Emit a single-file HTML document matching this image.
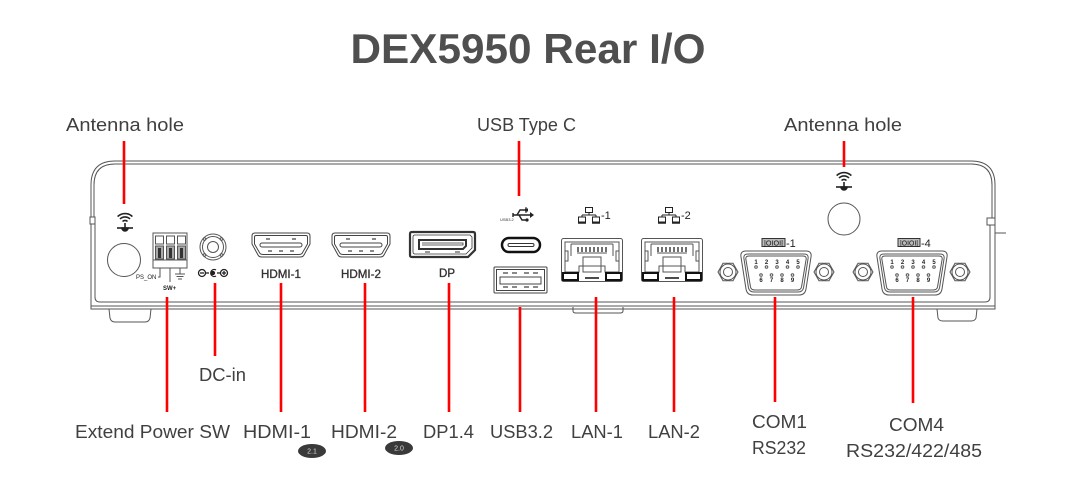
<!DOCTYPE html>
<html><head><meta charset="utf-8"><style>
html,body{margin:0;padding:0;background:#fff;}
svg{display:block;}
</style></head><body>
<svg width="1080" height="491" viewBox="0 0 1080 491" xmlns="http://www.w3.org/2000/svg">
<rect width="1080" height="491" fill="#fff"/>

<!-- Title -->
<text x="528" y="63" text-anchor="middle" font-family="Liberation Sans, sans-serif" font-weight="bold" font-size="42" fill="#4f4f4f" textLength="355" lengthAdjust="spacingAndGlyphs">DEX5950 Rear I/O</text>

<!-- Labels -->
<g font-family="Liberation Sans, sans-serif" font-size="18" fill="#404040">
<text x="66" y="131" textLength="118" lengthAdjust="spacingAndGlyphs">Antenna hole</text>
<text x="477" y="131" textLength="99" lengthAdjust="spacingAndGlyphs">USB Type C</text>
<text x="784" y="131" textLength="118" lengthAdjust="spacingAndGlyphs">Antenna hole</text>
<text x="199" y="381" textLength="47" lengthAdjust="spacingAndGlyphs">DC-in</text>
<text x="75" y="438" textLength="155" lengthAdjust="spacingAndGlyphs">Extend Power SW</text>
<text x="243" y="438" textLength="68" lengthAdjust="spacingAndGlyphs">HDMI-1</text>
<text x="331" y="438" textLength="66" lengthAdjust="spacingAndGlyphs">HDMI-2</text>
<text x="423" y="438" textLength="51" lengthAdjust="spacingAndGlyphs">DP1.4</text>
<text x="490" y="438" textLength="63" lengthAdjust="spacingAndGlyphs">USB3.2</text>
<text x="571" y="438" textLength="52" lengthAdjust="spacingAndGlyphs">LAN-1</text>
<text x="648" y="438" textLength="52" lengthAdjust="spacingAndGlyphs">LAN-2</text>
<text x="752" y="428" textLength="55" lengthAdjust="spacingAndGlyphs">COM1</text>
<text x="752" y="454" textLength="54" lengthAdjust="spacingAndGlyphs">RS232</text>
<text x="889" y="431" textLength="55" lengthAdjust="spacingAndGlyphs">COM4</text>
<text x="846" y="457" textLength="136" lengthAdjust="spacingAndGlyphs">RS232/422/485</text>
</g>

<!-- badges -->
<ellipse cx="312" cy="451" rx="14" ry="7" fill="#3a3a3a"/>
<text x="312" y="453.5" text-anchor="middle" font-family="Liberation Sans, sans-serif" font-size="7" fill="#ddd">2.1</text>
<ellipse cx="399" cy="448" rx="14" ry="7" fill="#3a3a3a"/>
<text x="399" y="450.5" text-anchor="middle" font-family="Liberation Sans, sans-serif" font-size="7" fill="#ddd">2.0</text>

<!-- Chassis -->
<g fill="none" stroke="#555" stroke-width="1">
<path d="M91,309 L91,185 Q91,161 115,161 L971,161 Q995,161 995,185 L995,309 Z"/>
<path d="M94,217 L94,185 Q94,164 115,164 L971,164 Q992,164 992,185 L992,218"/>
<path d="M95,224 L95,297 Q95,302 100,302 L985,302 Q990,302 990,297 L990,225"/>
<path d="M91,306 L995,306"/>
<rect x="90" y="217" width="5" height="7" fill="#fff"/>
<rect x="987" y="218" width="8" height="7" fill="#fff"/>
<path d="M995,233 L1006,233"/>
<path d="M109,309 L110,318 Q111,322 115,322 L145,322 Q149,322 150,318 L151,309"/>
<path d="M573,307 L573,311 Q573,313 576,313 L620,313 Q623,313 623,311 L623,307"/>
<path d="M937,309 L938,318 Q939,321 943,321 L971,321 Q975,321 976,318 L977,309"/>
</g>

<!-- Wifi icons -->
<g fill="none" stroke="#222" stroke-width="1.6">
<g transform="translate(125,224)">
<path d="M-2.5,-2.5 A3.5,3.5 0 0 1 2.5,-2.5"/>
<path d="M-5,-5 A7,7 0 0 1 5,-5"/>
<path d="M-7.4,-7.4 A10.5,10.5 0 0 1 7.4,-7.4"/>
<path d="M-8,4 L8,4"/>
<path d="M0,-1 L0,4"/>
<path d="M-3,4 A3,3 0 0 0 3,4 Z" fill="#222"/>
</g>
<g transform="translate(844,183)">
<path d="M-2.5,-2.5 A3.5,3.5 0 0 1 2.5,-2.5"/>
<path d="M-5,-5 A7,7 0 0 1 5,-5"/>
<path d="M-7.4,-7.4 A10.5,10.5 0 0 1 7.4,-7.4"/>
<path d="M-8,4 L8,4"/>
<path d="M0,-1 L0,4"/>
<path d="M-3,4 A3,3 0 0 0 3,4 Z" fill="#222"/>
</g>
</g>

<!-- antenna holes -->
<circle cx="124" cy="260" r="16.5" fill="none" stroke="#555" stroke-width="1"/>
<circle cx="844" cy="219" r="16" fill="none" stroke="#555" stroke-width="1"/>

<!-- Terminal block -->
<g stroke="#555" stroke-width="1" fill="#fff">
<rect x="153" y="233" width="34" height="35"/>
<rect x="155.5" y="236" width="8" height="8"/>
<rect x="166.5" y="236" width="8" height="8"/>
<rect x="177.5" y="236" width="8" height="8"/>
<rect x="155.5" y="246" width="8" height="13" fill="#aaa"/>
<rect x="166.5" y="246" width="8" height="13" fill="#aaa"/>
<rect x="177.5" y="246" width="8" height="13" fill="#aaa"/>
<rect x="158" y="248" width="3" height="10" fill="#333" stroke="none"/>
<rect x="169" y="248" width="3" height="10" fill="#333" stroke="none"/>
<rect x="180" y="248" width="3" height="10" fill="#333" stroke="none"/>
<rect x="153" y="260" width="34" height="8"/>
<path d="M158,277 L160,277 L160,268 M170,268 L170,282 M180,268 L180,274 M175,274 L185,274 M176.5,276.5 L183.5,276.5 M178,279 L182,279" fill="none"/>
</g>
<text x="136" y="279" font-family="Liberation Sans, sans-serif" font-size="6" fill="#222">PS_ON</text>
<text x="163" y="290" font-family="Liberation Sans, sans-serif" font-size="6" font-weight="bold" fill="#222">SW+</text>

<!-- DC jack -->
<g stroke="#555" stroke-width="1" fill="none">
<circle cx="213" cy="247" r="13"/>
<circle cx="213" cy="247" r="10.5"/>
<circle cx="213" cy="247" r="5.5"/>
<circle cx="204.5" cy="239" r="1.3"/><circle cx="221.5" cy="239" r="1.3"/>
<circle cx="204.5" cy="255" r="1.3"/><circle cx="221.5" cy="255" r="1.3"/>
</g>
<g stroke="#222" stroke-width="1.3" fill="none">
<circle cx="202" cy="273" r="3.5"/><path d="M200,273 L204,273"/>
<path d="M205.5,273 L209,273"/>
<path d="M216,270 A3.5,3.5 0 1 0 216,276"/><circle cx="213" cy="273" r="1.5" fill="#222"/>
<path d="M217,273 L220,273"/>
<circle cx="224" cy="273" r="3.5"/><path d="M222,273 L226,273 M224,271 L224,275"/>
</g>

<!-- HDMI ports -->
<g fill="none" stroke="#444" stroke-width="1">
<g transform="translate(252,233)">
<path d="M3,0 L55,0 Q58,0 58,3 L58,11 L52,22 Q51,24 48,24 L10,24 Q7,24 6,22 L0,11 L0,3 Q0,0 3,0 Z"/>
<path d="M4,2.5 L54,2.5 Q55.5,2.5 55.5,4 L55.5,11 L50,20.5 Q49,21.5 47,21.5 L11,21.5 Q9,21.5 8,20.5 L2.5,11 L2.5,4 Q2.5,2.5 4,2.5 Z"/>
<rect x="8" y="10" width="42" height="4" rx="2"/>
<path d="M14,6 L18,6 M40,6 L44,6 M16,18 L20,18 M27,18 L31,18 M38,18 L42,18" stroke-width="1.3"/>
</g>
<g transform="translate(332,233)">
<path d="M3,0 L55,0 Q58,0 58,3 L58,11 L52,22 Q51,24 48,24 L10,24 Q7,24 6,22 L0,11 L0,3 Q0,0 3,0 Z"/>
<path d="M4,2.5 L54,2.5 Q55.5,2.5 55.5,4 L55.5,11 L50,20.5 Q49,21.5 47,21.5 L11,21.5 Q9,21.5 8,20.5 L2.5,11 L2.5,4 Q2.5,2.5 4,2.5 Z"/>
<rect x="8" y="10" width="42" height="4" rx="2"/>
<path d="M14,6 L18,6 M40,6 L44,6 M16,18 L20,18 M27,18 L31,18 M38,18 L42,18" stroke-width="1.3"/>
</g>
</g>
<g font-family="Liberation Sans, sans-serif" font-size="11.5" fill="#333" stroke="#333" stroke-width="0.35">
<text x="281" y="278" text-anchor="middle" textLength="40" lengthAdjust="spacingAndGlyphs">HDMI-1</text>
<text x="361" y="278" text-anchor="middle" textLength="40" lengthAdjust="spacingAndGlyphs">HDMI-2</text>
<text x="447" y="277" text-anchor="middle" textLength="16" lengthAdjust="spacingAndGlyphs">DP</text>
</g>

<!-- DP -->
<g transform="translate(410,232)" fill="none" stroke="#333">
<path d="M2,0 L63,0 Q65,0 65,2 L65,18 L58,25 L2,25 Q0,25 0,23 L0,2 Q0,0 2,0 Z" stroke-width="2.2"/>
<path d="M5,3 L60,3 L62,5 L62,16 L56,22 L5,22 Q3,22 3,20 L3,5 Q3,3 5,3 Z" stroke-width="0.8"/>
<path d="M9,8 L56,8 L56,14 L53,17 L9,17 Z" stroke-width="2"/>
<path d="M12,11 L53,11 L53,13 L12,13" stroke-width="0.8"/>
<path d="M15,20 L20,20 M45,20 L50,20" stroke-width="1"/>
</g>

<!-- USB icon -->
<g transform="translate(500,207)">
<text x="0" y="14" font-family="Liberation Sans, sans-serif" font-size="4" fill="#333">USB3.2</text>
<g stroke="#222" stroke-width="1.4" fill="none">
<path d="M13,8 L31,8"/>
<path d="M17,8 L20,3 L25,3"/>
<path d="M19,8 L22,13 L26,13"/>
<path d="M13,6 L13,10"/>
</g>
<path d="M30,5 L34,8 L30,11 Z" fill="#222"/>
<rect x="25" y="1.5" width="3" height="3" fill="#222"/>
<circle cx="27" cy="13" r="1.6" fill="#222"/>
<path d="M26,0 L26,6" stroke="#222" stroke-width="1"/>
</g>

<!-- USB-C -->
<rect x="502" y="238" width="38" height="14" rx="7" fill="none" stroke="#111" stroke-width="2.5"/>
<rect x="508" y="243.5" width="26" height="3" rx="1.5" fill="none" stroke="#333" stroke-width="1"/>

<!-- USB-A -->
<g fill="none" stroke="#444" stroke-width="1">
<rect x="494" y="267" width="53" height="26" rx="1"/>
<rect x="496.5" y="269.5" width="48" height="21"/>
<rect x="500" y="277" width="41" height="7"/>
<path d="M503,273 L508,273 M512,273 L517,273 M524,273 L529,273 M533,273 L538,273" stroke-width="1.3"/>
<path d="M503,287 L508,287 M512,287 L517,287 M524,287 L529,287 M533,287 L538,287" stroke-width="1.3"/>
</g>

<!-- LAN icons -->
<g stroke="#222" stroke-width="1" fill="none">
<g transform="translate(578,207)">
<rect x="7.5" y="0.5" width="7" height="5" fill="#fff"/>
<path d="M11,5.5 L11,8 M4,8 L18,8 M4,8 L4,10 M18,8 L18,10"/>
<rect x="0.5" y="10" width="7" height="5"/>
<rect x="14.5" y="10" width="7" height="5"/>
<path d="M0,16 L8,16 M14,16 L22,16" stroke-width="1.5"/>
</g>
<g transform="translate(658,207)">
<rect x="7.5" y="0.5" width="7" height="5" fill="#fff"/>
<path d="M11,5.5 L11,8 M4,8 L18,8 M4,8 L4,10 M18,8 L18,10"/>
<rect x="0.5" y="10" width="7" height="5"/>
<rect x="14.5" y="10" width="7" height="5"/>
<path d="M0,16 L8,16 M14,16 L22,16" stroke-width="1.5"/>
</g>
</g>
<g font-family="Liberation Sans, sans-serif" font-size="11" fill="#222">
<text x="601" y="219">-1</text>
<text x="681" y="219">-2</text>
</g>

<!-- LAN ports -->
<g fill="none" stroke="#555" stroke-width="1">
<g transform="translate(561,238)">
<rect x="0.5" y="0.5" width="61" height="43" rx="2"/>
<path d="M4,4 L58,4 L58,34 L44,34 L44,28 L18,28 L18,34 L4,34 Z"/>
<path d="M10,6 L52,6 M10,6 L10,18 M52,6 L52,18"/>
<path d="M17,9 L17,14 M21,9 L21,14 M25,9 L25,14 M29,9 L29,14 M33,9 L33,14 M37,9 L37,14 M41,9 L41,14 M45,9 L45,14" stroke="#333" stroke-width="1.4"/>
<path d="M16,15 L46,15"/>
<rect x="4" y="13" width="3" height="10"/>
<rect x="55" y="13" width="3" height="10"/>
<rect x="22" y="19" width="18" height="15"/>
<rect x="2" y="35" width="15" height="7" stroke="#111" stroke-width="2" fill="#fff"/>
<rect x="45" y="35" width="15" height="7" stroke="#111" stroke-width="2" fill="#fff"/>
<path d="M24,40 L38,40" stroke="#111" stroke-width="1.5"/>
</g>
<g transform="translate(641,238)">
<rect x="0.5" y="0.5" width="61" height="43" rx="2"/>
<path d="M4,4 L58,4 L58,34 L44,34 L44,28 L18,28 L18,34 L4,34 Z"/>
<path d="M10,6 L52,6 M10,6 L10,18 M52,6 L52,18"/>
<path d="M17,9 L17,14 M21,9 L21,14 M25,9 L25,14 M29,9 L29,14 M33,9 L33,14 M37,9 L37,14 M41,9 L41,14 M45,9 L45,14" stroke="#333" stroke-width="1.4"/>
<path d="M16,15 L46,15"/>
<rect x="4" y="13" width="3" height="10"/>
<rect x="55" y="13" width="3" height="10"/>
<rect x="22" y="19" width="18" height="15"/>
<rect x="2" y="35" width="15" height="7" stroke="#111" stroke-width="2" fill="#fff"/>
<rect x="45" y="35" width="15" height="7" stroke="#111" stroke-width="2" fill="#fff"/>
<path d="M24,40 L38,40" stroke="#111" stroke-width="1.5"/>
</g>
</g>

<!-- COM labels -->
<g font-family="Liberation Sans, sans-serif">
<rect x="762" y="238.5" width="23" height="8" fill="#bbb" stroke="#333" stroke-width="1"/>
<text x="773.5" y="245.5" text-anchor="middle" font-size="7" fill="#111" textLength="19" lengthAdjust="spacingAndGlyphs">|OIOI|</text>
<text x="786" y="247" font-size="11" fill="#222">-1</text>
<rect x="898" y="238.5" width="22" height="8" fill="#bbb" stroke="#333" stroke-width="1"/>
<text x="909" y="245.5" text-anchor="middle" font-size="7" fill="#111" textLength="18" lengthAdjust="spacingAndGlyphs">|OIOI|</text>
<text x="921" y="247" font-size="11" fill="#222">-4</text>
</g>

<!-- DB9 connectors -->
<g fill="none" stroke="#555" stroke-width="1">
<g transform="translate(740,251)">
<path d="M6,0 L66,0 Q72,0 71,6 L66,38 Q65,44 59,44 L13,44 Q7,44 6,38 L1,6 Q0,0 6,0 Z"/>
<path d="M8,3 L64,3 Q69,3 68,8 L63.5,37 Q62.5,41 58,41 L14,41 Q9.5,41 8.5,37 L4,8 Q3,3 8,3 Z"/>
<path d="M9,5 L63,5 Q67,5 66,9 L61.5,36 Q61,39 57,39 L15,39 Q11,39 10.5,36 L6,9 Q5,5 9,5 Z"/>
<circle cx="16" cy="16" r="1.3"/><circle cx="26.5" cy="16" r="1.3"/><circle cx="37" cy="16" r="1.3"/><circle cx="47.5" cy="16" r="1.3"/><circle cx="58" cy="16" r="1.3"/>
<circle cx="21" cy="24" r="1.3"/><circle cx="31.5" cy="24" r="1.3"/><circle cx="42" cy="24" r="1.3"/><circle cx="52.5" cy="24" r="1.3"/>
</g>
<g transform="translate(876,251)">
<path d="M6,0 L66,0 Q72,0 71,6 L66,38 Q65,44 59,44 L13,44 Q7,44 6,38 L1,6 Q0,0 6,0 Z"/>
<path d="M8,3 L64,3 Q69,3 68,8 L63.5,37 Q62.5,41 58,41 L14,41 Q9.5,41 8.5,37 L4,8 Q3,3 8,3 Z"/>
<path d="M9,5 L63,5 Q67,5 66,9 L61.5,36 Q61,39 57,39 L15,39 Q11,39 10.5,36 L6,9 Q5,5 9,5 Z"/>
<circle cx="16" cy="16" r="1.3"/><circle cx="26.5" cy="16" r="1.3"/><circle cx="37" cy="16" r="1.3"/><circle cx="47.5" cy="16" r="1.3"/><circle cx="58" cy="16" r="1.3"/>
<circle cx="21" cy="24" r="1.3"/><circle cx="31.5" cy="24" r="1.3"/><circle cx="42" cy="24" r="1.3"/><circle cx="52.5" cy="24" r="1.3"/>
</g>
<g transform="translate(728,272)"><polygon points="10,0 5,8.7 -5,8.7 -10,0 -5,-8.7 5,-8.7"/><circle r="8"/><circle r="4.5"/></g>
<g transform="translate(824,272)"><polygon points="10,0 5,8.7 -5,8.7 -10,0 -5,-8.7 5,-8.7"/><circle r="8"/><circle r="4.5"/></g>
<g transform="translate(863,272)"><polygon points="10,0 5,8.7 -5,8.7 -10,0 -5,-8.7 5,-8.7"/><circle r="8"/><circle r="4.5"/></g>
<g transform="translate(960,272)"><polygon points="10,0 5,8.7 -5,8.7 -10,0 -5,-8.7 5,-8.7"/><circle r="8"/><circle r="4.5"/></g>
</g>
<g font-family="Liberation Sans, sans-serif" font-size="6" font-weight="bold" fill="#222" text-anchor="middle">
<g transform="translate(740,251)">
<text x="16" y="13">1</text><text x="26.5" y="13">2</text><text x="37" y="13">3</text><text x="47.5" y="13">4</text><text x="58" y="13">5</text>
<text x="21" y="31">6</text><text x="31.5" y="31">7</text><text x="42" y="31">8</text><text x="52.5" y="31">9</text>
</g>
<g transform="translate(876,251)">
<text x="16" y="13">1</text><text x="26.5" y="13">2</text><text x="37" y="13">3</text><text x="47.5" y="13">4</text><text x="58" y="13">5</text>
<text x="21" y="31">6</text><text x="31.5" y="31">7</text><text x="42" y="31">8</text><text x="52.5" y="31">9</text>
</g>
</g>

<!-- Red connector lines -->
<g stroke="#ff0000" stroke-width="2.6" fill="none">
<path d="M124,141 L124,204"/>
<path d="M519,141 L519,196"/>
<path d="M844,141 L844,167"/>
<path d="M167,297 L167,412"/>
<path d="M215,283 L215,356"/>
<path d="M281,283 L281,412"/>
<path d="M365,283 L365,412"/>
<path d="M449,283 L449,412"/>
<path d="M520,307 L520,412"/>
<path d="M596,297 L596,412"/>
<path d="M674,297 L674,412"/>
<path d="M775,297 L775,402"/>
<path d="M913,297 L913,403"/>
</g>
</svg>
</body></html>
